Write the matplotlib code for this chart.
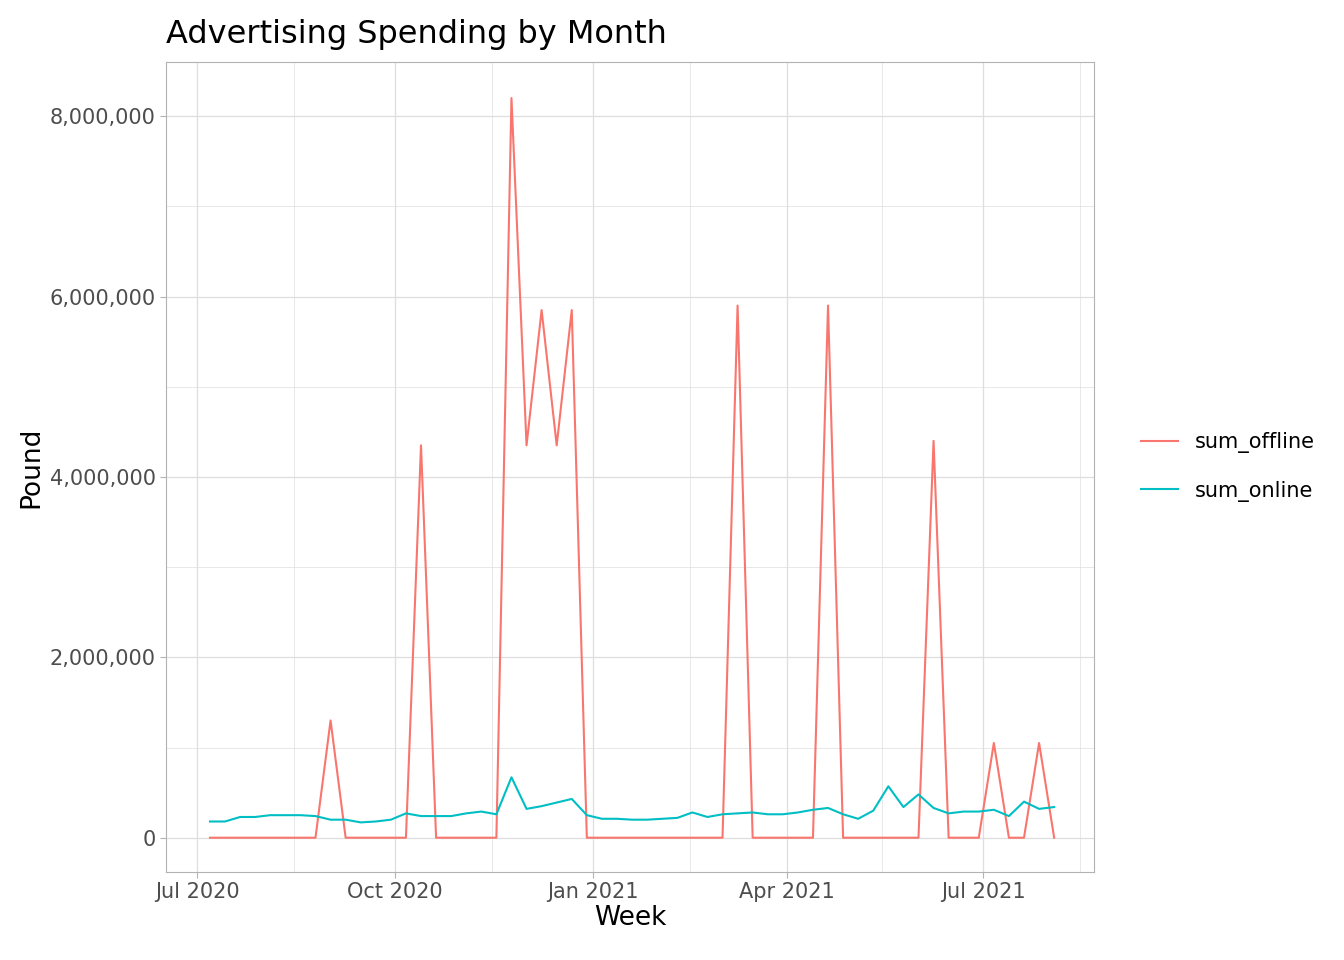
import matplotlib
matplotlib.use("Agg")
import matplotlib.pyplot as plt
import matplotlib.dates as mdates
import numpy as np
import pandas as pd
from matplotlib.ticker import FuncFormatter, MultipleLocator

weeks = pd.date_range("2020-07-07", periods=57, freq="7D")

sum_offline = np.zeros(57)
for i, v in {8: 1.3e6, 14: 4.35e6, 20: 8.2e6, 21: 4.35e6, 22: 5.85e6, 23: 4.35e6,
             24: 5.85e6, 35: 5.9e6, 41: 5.9e6, 48: 4.4e6, 52: 1.05e6, 55: 1.05e6}.items():
    sum_offline[i] = v

sum_online = np.array([
    0.18, 0.18, 0.23, 0.23, 0.25, 0.25, 0.25, 0.24, 0.20, 0.20,
    0.17, 0.18, 0.20, 0.27, 0.24, 0.24, 0.24, 0.27, 0.29, 0.26,
    0.67, 0.32, 0.35, 0.39, 0.43, 0.25, 0.21, 0.21, 0.20, 0.20,
    0.21, 0.22, 0.28, 0.23, 0.26, 0.27, 0.28, 0.26, 0.26, 0.28,
    0.31, 0.33, 0.26, 0.21, 0.30, 0.57, 0.34, 0.48, 0.33, 0.27,
    0.29, 0.29, 0.31, 0.24, 0.40, 0.32, 0.34]) * 1e6

RED = "#F8766D"
TEAL = "#00BFC4"
GRID = "#DEDEDE"

fig = plt.figure(figsize=(13.44, 9.6), dpi=100)
ax = fig.add_axes([166 / 1344, 1 - 872 / 960, (1094 - 166) / 1344, (872 - 62) / 960])

ax.plot(weeks, sum_offline, color=RED, lw=1.5, label="sum_offline")
ax.plot(weeks, sum_online, color=TEAL, lw=1.5, label="sum_online")

ax.set_ylim(-0.38e6, 8.6e6)
ax.set_xlim(pd.Timestamp("2020-06-16 14:00"), pd.Timestamp("2021-08-21 12:00"))
ax.yaxis.set_major_locator(MultipleLocator(2e6))
ax.yaxis.set_minor_locator(MultipleLocator(1e6))
ax.yaxis.set_major_formatter(FuncFormatter(lambda v, p: f"{int(v):,}"))
ax.xaxis.set_major_locator(mdates.MonthLocator(bymonth=[1, 4, 7, 10]))
ax.xaxis.set_minor_locator(mdates.MonthLocator(bymonth=[2, 8, 11, 5], bymonthday=15))
ax.xaxis.set_major_formatter(mdates.DateFormatter("%b %Y"))

ax.grid(True, which="major", color=GRID, lw=0.9)
ax.grid(True, which="minor", color=GRID, lw=0.5)
ax.set_axisbelow(True)
for s in ax.spines.values():
    s.set_color("#B3B3B3")
ax.tick_params(which="both", length=4, color="#B3B3B3", labelsize=15, labelcolor="#4D4D4D")
ax.tick_params(which="minor", length=0)

ax.set_xlabel("Week", fontsize=19, labelpad=2)
ax.set_ylabel("Pound", fontsize=19)
ax.set_title("Advertising Spending by Month", fontsize=23, loc="left", pad=14)

ax.legend(loc="center left", bbox_to_anchor=(1.03, 0.5), frameon=False,
          fontsize=15, handlelength=1.8, labelspacing=1.3)

fig.savefig("out.png", dpi=100, facecolor="white")
